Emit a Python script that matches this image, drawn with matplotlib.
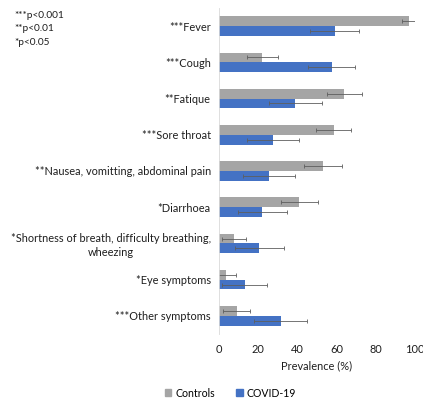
import numpy as np
import matplotlib.pyplot as plt
from matplotlib.patches import Patch

symptoms = ['***Fever', '***Cough', '**Fatique', '***Sore throat',
            '**Nausea, vomitting, abdominal pain', '*Diarrhoea',
            '*Shortness of breath, difficulty breathing,\nwheezing',
            '*Eye symptoms', '***Other symptoms']
controls = [97, 22, 64, 58.5, 53, 41, 7.5, 3.5, 9]
controls_err = [3.5, 8, 9, 9, 9.5, 9.5, 6, 5, 7]
covid = [59, 57.5, 39, 27.5, 25.5, 22, 20.5, 13, 31.5]
covid_err = [12.5, 12, 13.5, 13.5, 13.5, 12.5, 12.5, 11.5, 13.5]
sig_notes = ['***p<0.001', '**p<0.01', '*p<0.05']

plt.rcParams['font.family'] = ['Lato', 'DejaVu Sans']

fig = plt.figure(figsize=(4.23, 3.99), dpi=100)
ax = fig.add_axes([0.518, 0.163, 0.463, 0.817])

y = np.arange(len(symptoms))
h = 0.27
err_kw = dict(ecolor='#5e5e5e', elinewidth=0.6, capsize=1.5, capthick=0.6)
ax.barh(y - h / 2, controls, height=h, color='#a5a5a5', xerr=controls_err,
        error_kw=err_kw, label='Controls')
ax.barh(y + h / 2, covid, height=h, color='#4472c4', xerr=covid_err,
        error_kw=err_kw, label='COVID-19')

ax.set_ylim(len(symptoms) - 0.5, -0.5)
ax.set_xlim(0, 100)
ax.set_xticks([0, 20, 40, 60, 80, 100])
ax.set_yticks(y)
ax.set_yticklabels(symptoms, fontsize=7.9, multialignment='center',
                   linespacing=1.3)
ax.tick_params(axis='both', length=0, pad=6, colors='#1e1e1e')
ax.tick_params(axis='x', labelsize=7.9, pad=7)
for s in ['top', 'right', 'bottom']:
    ax.spines[s].set_visible(False)
ax.spines['left'].set_color('#d9d9d9')
ax.spines['left'].set_linewidth(0.6)
ax.set_xlabel('Prevalence (%)', fontsize=7.9, color='#1e1e1e', labelpad=4)

for i, note in enumerate(sig_notes):
    fig.text(0.033, 0.962 - i * 0.034, note, fontsize=7.3, color='#1e1e1e',
             va='center')

handles = [Patch(color='#a5a5a5', label='Controls'),
           Patch(color='#4472c4', label='COVID-19')]
fig.legend(handles=handles, loc='center', bbox_to_anchor=(0.545, 0.015),
           ncol=2, frameon=False, fontsize=7.6, handlelength=0.6,
           handleheight=0.6, handletextpad=0.4, columnspacing=2.0)

fig.savefig('out.png', dpi=100)
